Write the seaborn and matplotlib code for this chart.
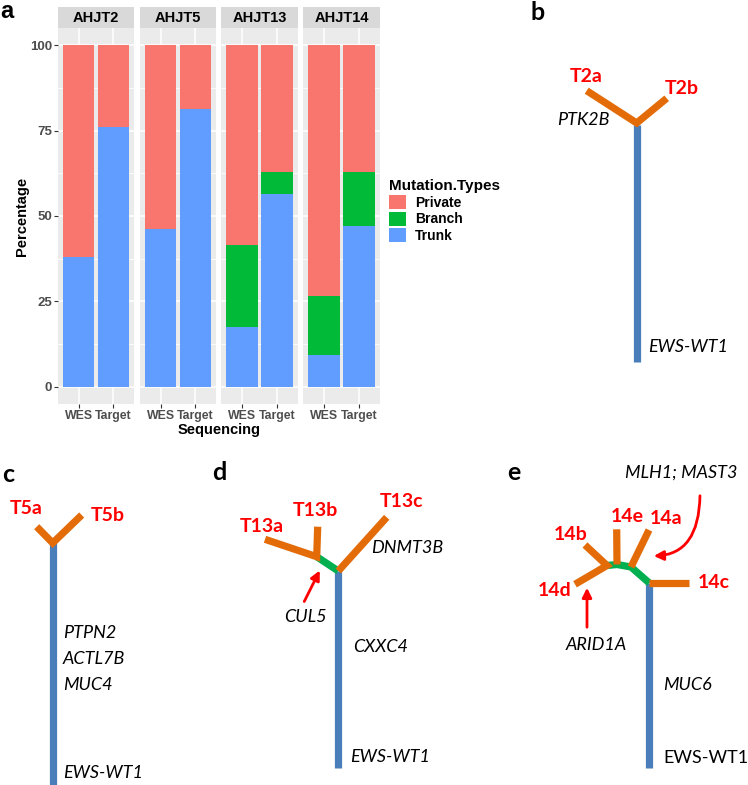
import numpy as np
import pandas as pd
import matplotlib
matplotlib.use("Agg")
import matplotlib.pyplot as plt
import seaborn as sns
from matplotlib.patches import Patch, FancyArrowPatch

# ---- panel a data (percentages) ----
patients = ["AHJT2", "AHJT5", "AHJT13", "AHJT14"]
sequencing = ["WES", "Target"]
trunk_pct = [[38.0, 76.0], [46.3, 81.2], [17.5, 56.4], [9.3, 47.0]]
branch_pct = [[0.0, 0.0], [0.0, 0.0], [24.0, 6.5], [17.2, 16.0]]
private_pct = [[62.0, 24.0], [53.7, 18.8], [58.5, 37.1], [73.5, 37.0]]
mutation_types = ["Private", "Branch", "Trunk"]
type_colors = ["#F8766D", "#00BA38", "#619CFF"]

# ---- trees (figure pixel coords, y down) ----
BLUE, ORANGE, GREEN, RED = "#4A7EBB", "#E36C09", "#00B050", "#FF0000"
tree_b_trunk = [(636.7, 125), (636.7, 362)]
tree_b_branches = [[(586.7, 90.7), (636.7, 123), (666.7, 98.3)]]
tree_c_trunk = [(52.7, 543), (52.7, 785)]
tree_c_branches = [[(36.7, 526.7), (52.7, 543), (81.7, 515)]]
tree_d_trunk = [(338.3, 571), (338.3, 768)]
tree_d_green = [[(338.3, 571), (316.7, 556.7)]]
tree_d_branches = [[(265, 539.3), (316.7, 556.7), (317.7, 526.7)],
                   [(338.3, 571), (386.7, 517.3)]]
tree_e_trunk = [(649.3, 583), (649.3, 768)]
tree_e_green = [[(649.3, 583), (631, 567), (617, 564.5), (607, 565.5)]]
tree_e_branches = [[(649.3, 582.7), (689, 582.7)],
                   [(631, 567), (649, 530)],
                   [(617, 564.5), (616.7, 529.3)],
                   [(585, 545), (607, 565.5), (575, 584.3)]]

sample_labels = [("T2a", 586, 76), ("T2b", 682, 88),
                 ("T5a", 25.7, 508.3), ("T5b", 108, 515.7),
                 ("T13a", 261.7, 526), ("T13b", 315, 510), ("T13c", 401.7, 501.7),
                 ("14e", 627, 516), ("14a", 665.7, 519), ("14b", 571, 535),
                 ("14d", 554.3, 591), ("14c", 714, 582.7)]
gene_labels = [("PTK2B", 610, 120, "right"), ("EWS-WT1", 648, 346.7, "left"),
               ("PTPN2", 63, 633.3, "left"), ("ACTL7B", 63, 659.3, "left"),
               ("MUC4", 63, 685, "left"), ("EWS-WT1", 63, 772.7, "left"),
               ("DNMT3B", 371, 548.3, "left"), ("CUL5", 305, 616.7, "center"),
               ("CXXC4", 352.7, 646.7, "left"), ("EWS-WT1", 350, 756.7, "left"),
               ("MLH1; MAST3", 681.7, 472.7, "center"), ("ARID1A", 596.7, 645, "center"),
               ("MUC6", 663.3, 685, "left")]

W, H = 748, 785
plt.rcParams["font.family"] = ["Liberation Sans", "DejaVu Sans"]
fig = plt.figure(figsize=(W / 100, H / 100), dpi=100)

# overlay axes for trees
tax = fig.add_axes([0, 0, 1, 1])
tax.set_xlim(0, W)
tax.set_ylim(H, 0)
tax.axis("off")
tax.patch.set_alpha(0)


def draw_path(pts, color):
    xs, ys = zip(*pts)
    tax.plot(xs, ys, color=color, lw=5.2, solid_capstyle="butt",
             solid_joinstyle="miter")


for trunk, greens, branches in [(tree_b_trunk, [], tree_b_branches),
                                (tree_c_trunk, [], tree_c_branches),
                                (tree_d_trunk, tree_d_green, tree_d_branches),
                                (tree_e_trunk, tree_e_green, tree_e_branches)]:
    draw_path(trunk, BLUE)
    for g in greens:
        draw_path(g, GREEN)
    for br in branches:
        draw_path(br, ORANGE)

for txt, x, y in sample_labels:
    tax.text(x, y, txt, color=RED, fontsize=14, fontweight="bold",
             family=["Lato", "DejaVu Sans"], ha="center", va="center")
for txt, x, y, ha in gene_labels:
    tax.text(x, y, txt, color="black", fontsize=13, style="italic",
             family=["Lato", "DejaVu Sans"], ha=ha, va="center")
tax.text(663.3, 758.3, "EWS-WT1", color="black", fontsize=13,
         family=["Lato", "DejaVu Sans"], ha="left", va="center")

arrows = [((303, 604), (321, 568), "arc3"),
          ((587, 630), (587, 585), "arc3"),
          ((700, 493), (651, 556), "angle3,angleA=90,angleB=0")]
for start, end, cs in arrows:
    tax.add_patch(FancyArrowPatch(start, end, connectionstyle=cs,
                                  arrowstyle="-|>", mutation_scale=14,
                                  color=RED, lw=2))

for letter, x, y in [("b", 531, 12), ("c", 2, 474), ("d", 212, 473), ("e", 507, 473)]:
    tax.text(x, y, letter, fontsize=18, fontweight="bold",
             family=["Lato", "DejaVu Sans"], ha="left", va="center")
tax.text(0, 11, "a", fontsize=17, fontweight="bold", ha="left", va="center")

# ---- panel a: faceted stacked bars ----
rows = []
for i, p in enumerate(patients):
    for j, s in enumerate(sequencing):
        t, b, pr = trunk_pct[i][j], branch_pct[i][j], private_pct[i][j]
        rows.append({"patient": p, "seq": s, "Trunk": t, "Branch": t + b,
                     "Private": t + b + pr})
df = pd.DataFrame(rows)

panel_x = [(58, 134), (140, 216), (221, 298), (303, 380)]
top_px, bot_px, strip_top = 28, 404, 7
for i, p in enumerate(patients):
    x0, x1 = panel_x[i]
    ax = fig.add_axes([x0 / W, 1 - bot_px / H, (x1 - x0) / W, (bot_px - top_px) / H])
    ax.set_facecolor("#EBEBEB")
    sub = df[df["patient"] == p]
    for mt, col in zip(mutation_types, type_colors):
        sns.barplot(data=sub, x="seq", y=mt, order=sequencing, color=col,
                    saturation=1, width=0.9, errorbar=None, linewidth=0, ax=ax)
    ax.set_xlim(-0.6, 1.6)
    ax.set_ylim(-5, 105)
    ax.set_xlabel("")
    ax.set_ylabel("")
    ax.set_yticks([0, 25, 50, 75, 100])
    ax.set_yticks([12.5, 37.5, 62.5, 87.5], minor=True)
    ax.set_axisbelow(True)
    ax.grid(which="major", color="white", lw=1.1)
    ax.grid(which="minor", axis="y", color="white", lw=0.55)
    for sp in ax.spines.values():
        sp.set_visible(False)
    ax.tick_params(which="major", length=2.7, width=0.8, color="#333333",
                   labelsize=9.5, labelcolor="#4D4D4D", pad=1.5)
    ax.tick_params(axis="x", labelsize=8.8)
    ax.tick_params(which="minor", length=0)
    for lbl in ax.get_xticklabels() + ax.get_yticklabels():
        lbl.set_fontweight("bold")
    if i > 0:
        ax.tick_params(axis="y", left=False, labelleft=False)

    sax = fig.add_axes([x0 / W, 1 - top_px / H, (x1 - x0) / W, (top_px - strip_top) / H])
    sax.set_facecolor("#D9D9D9")
    sax.set_xticks([])
    sax.set_yticks([])
    for sp in sax.spines.values():
        sp.set_visible(False)
    sax.text(0.5, 0.5, p, transform=sax.transAxes, ha="center", va="center",
             fontsize=10.5, fontweight="bold")

fig.text(22 / W, 1 - 216 / H, "Percentage", rotation=90, ha="center",
         va="center", fontsize=10.5, fontweight="bold")
fig.text(219 / W, 1 - 430 / H, "Sequencing", ha="center", va="center",
         fontsize=10.5, fontweight="bold")

handles = [Patch(facecolor=c, edgecolor="none", label=m)
           for m, c in zip(mutation_types, type_colors)]
fig.legend(handles=handles, title="Mutation.Types", loc="upper left",
           bbox_to_anchor=(389 / W, 1 - 179 / H), frameon=False,
           fontsize=10, title_fontproperties={"weight": "bold", "size": 11},
           alignment="left", handlelength=1.2, handleheight=1.15,
           labelspacing=0.15, handletextpad=0.65, borderpad=0, borderaxespad=0)
for t in fig.legends[0].get_texts():
    t.set_fontweight("bold")

fig.savefig("out.png", dpi=100)
